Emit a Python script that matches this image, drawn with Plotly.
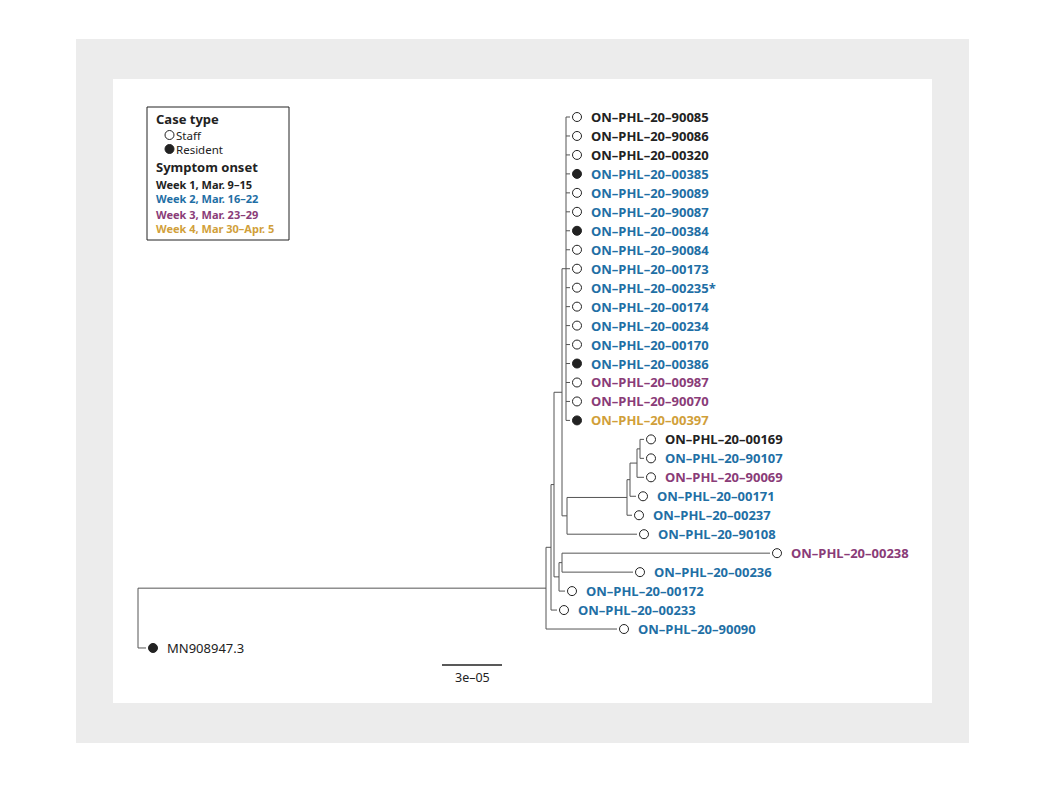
import plotly.graph_objects as go

# Tips (top to bottom): name, symptom week, case type
tip_names = ["ON–PHL–20–90085","ON–PHL–20–90086","ON–PHL–20–00320","ON–PHL–20–00385","ON–PHL–20–90089",
             "ON–PHL–20–90087","ON–PHL–20–00384","ON–PHL–20–90084","ON–PHL–20–00173","ON–PHL–20–00235*",
             "ON–PHL–20–00174","ON–PHL–20–00234","ON–PHL–20–00170","ON–PHL–20–00386","ON–PHL–20–00987",
             "ON–PHL–20–90070","ON–PHL–20–00397","ON–PHL–20–00169","ON–PHL–20–90107","ON–PHL–20–90069",
             "ON–PHL–20–00171","ON–PHL–20–00237","ON–PHL–20–90108","ON–PHL–20–00238","ON–PHL–20–00236",
             "ON–PHL–20–00172","ON–PHL–20–00233","ON–PHL–20–90090","MN908947.3"]
tip_week = [1,1,1,2,2,2,2,2,2,2,2,2,2,2,3,3,4,1,2,3,2,2,2,3,2,2,2,2,0]
tip_resident = [0,0,0,1,0,0,1,0,0,0,0,0,0,1,0,0,1,0,0,0,0,0,0,0,0,0,0,0,1]

# Tree: (depth in 1e-5 substitutions/site, children or tip index)
tree = (0.0, [
    (20.4, [
        (20.65, [
            (20.8, [
                (21.2, [
                    (21.4, [(21.6, i) for i in range(17)]),
                    (21.45, [
                        (24.45, [
                            (24.6, [
                                (24.95, [
                                    (25.1, [(25.3, 17), (25.3, 18)]),
                                    (25.3, 19)]),
                                (24.9, 20)]),
                            (24.7, 21)]),
                        (24.95, 22)]),
                ]),
                (21.05, [
                    (21.2, [(31.6, 23), (24.75, 24)]),
                    (21.35, 25)]),
            ]),
            (20.95, 26)]),
        (23.95, 27)]),
    (0.4, 28)])

week_colors = {0: "#222222", 1: "#222222", 2: "#1f6fa5", 3: "#8a3c78", 4: "#d19f3a"}

lx, ly = [], []
tip_x = [0]*len(tip_names)

def layout_node(node):
    x, kids = node
    if isinstance(kids, int):
        tip_x[kids] = x
        return float(kids)
    ys = [layout_node(k) for k in kids]
    lx.extend([x, x, None]); ly.extend([min(ys), max(ys), None])
    for k, y in zip(kids, ys):
        lx.extend([x, k[0], None]); ly.extend([y, y, None])
    return (min(ys) + max(ys)) / 2

layout_node(tree)

OFF = 8
W, H = 1058, 794
def PX(p): return (p - OFF) / W
def PY(p): return 1 - (p - OFF) / H

fig = go.Figure()
fig.add_trace(go.Scatter(x=lx, y=ly, mode="lines", line=dict(color="#555", width=1), hoverinfo="skip"))
mx = [t + 0.35 for t in tip_x]
fig.add_trace(go.Scatter(x=mx, y=list(range(len(tip_names))), mode="markers",
    marker=dict(size=9, color=["#222" if r else "white" for r in tip_resident],
                line=dict(color="#222", width=1)), hoverinfo="skip"))
for i, n in enumerate(tip_names):
    txt = n if tip_week[i] == 0 else "<b>%s</b>" % n
    fig.add_annotation(x=mx[i] + 0.6, y=i, text=txt, showarrow=False, xanchor="left",
                       font=dict(family="Noto Sans", size=13, color=week_colors[tip_week[i]]))

shapes = [
    dict(type="rect", xref="paper", yref="paper", x0=PX(76), x1=PX(969), y0=PY(743), y1=PY(39),
         fillcolor="#ececec", line=dict(width=0), layer="below"),
    dict(type="rect", xref="paper", yref="paper", x0=PX(113), x1=PX(932), y0=PY(703), y1=PY(79),
         fillcolor="white", line=dict(width=0), layer="below"),
    dict(type="rect", xref="paper", yref="paper", x0=PX(147), x1=PX(289), y0=PY(240), y1=PY(107),
         fillcolor="white", line=dict(width=1, color="#222")),
    dict(type="line", xref="paper", yref="paper", x0=PX(442), x1=PX(502), y0=PY(665), y1=PY(665),
         line=dict(width=1.5, color="#222")),
    dict(type="circle", xref="paper", yref="paper", x0=PX(165), x1=PX(174), y0=PY(139.5), y1=PY(130.5),
         fillcolor="white", line=dict(width=1, color="#222")),
    dict(type="circle", xref="paper", yref="paper", x0=PX(165), x1=PX(174), y0=PY(153.5), y1=PY(144.5),
         fillcolor="#222", line=dict(width=1, color="#222")),
]
fig.update_layout(shapes=shapes)

def pa(px, py, text, size=12, color="#222"):
    fig.add_annotation(xref="paper", yref="paper", x=PX(px), y=PY(py), text=text, showarrow=False,
                       xanchor="left", yanchor="middle", borderpad=0,
                       font=dict(family="Noto Sans", size=size, color=color))

pa(155, 119, "<b>Case type</b>", 13)
pa(175, 135, "Staff", 11.5)
pa(175, 149, "Resident", 11.5)
pa(155, 167, "<b>Symptom onset</b>", 13)
pa(155, 184, "<b>Week 1, Mar. 9–15</b>", 11, week_colors[1])
pa(155, 199, "<b>Week 2, Mar. 16–22</b>", 11, week_colors[2])
pa(155, 214, "<b>Week 3, Mar. 23–29</b>", 11, week_colors[3])
pa(155, 229, "<b>Week 4, Mar 30–Apr. 5</b>", 11, week_colors[4])
pa(454, 677, "3e–05", 12.5)

fig.update_layout(width=W, height=H, margin=dict(l=0, r=0, t=0, b=0),
                  paper_bgcolor="white", plot_bgcolor="rgba(0,0,0,0)", showlegend=False,
                  xaxis=dict(range=[-6.9 + OFF/20, 46.0 + OFF/20], visible=False),
                  yaxis=dict(range=[35.7 + OFF/18.96, -6.17 + OFF/18.96], visible=False))
fig.write_html("out.html")
